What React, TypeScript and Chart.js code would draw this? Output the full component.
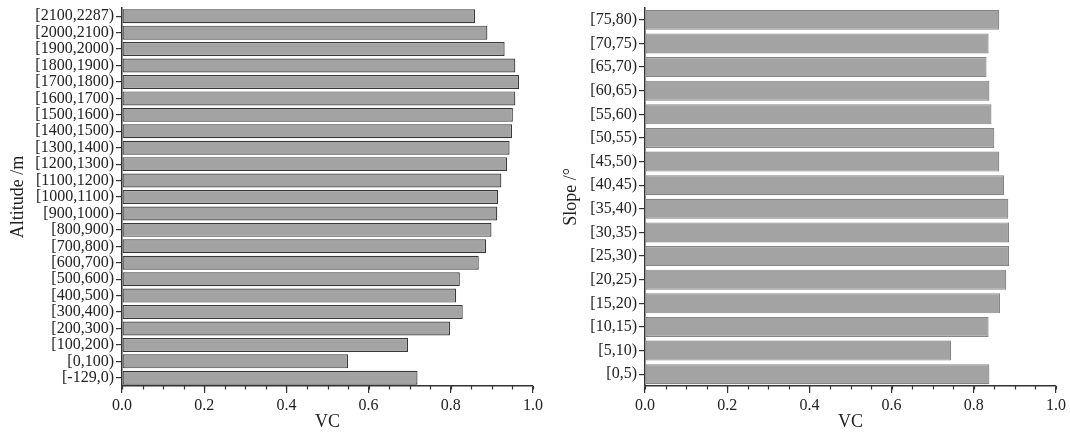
import React, { useEffect, useRef } from "react";
import { Chart, registerables } from "chart.js";

Chart.register(...registerables);

const altitudeCategories = [
  "[2100,2287)", "[2000,2100)", "[1900,2000)", "[1800,1900)", "[1700,1800)", "[1600,1700)",
  "[1500,1600)", "[1400,1500)", "[1300,1400)", "[1200,1300)", "[1100,1200)", "[1000,1100)",
  "[900,1000)", "[800,900)", "[700,800)", "[600,700)", "[500,600)", "[400,500)",
  "[300,400)", "[200,300)", "[100,200)", "[0,100)", "[-129,0)",
];
const altitudeVC = [
  0.859, 0.889, 0.931, 0.957, 0.966, 0.957,
  0.951, 0.949, 0.943, 0.937, 0.923, 0.915,
  0.913, 0.899, 0.886, 0.868, 0.822, 0.813,
  0.829, 0.798, 0.696, 0.550, 0.719,
];

const slopeCategories = [
  "[75,80)", "[70,75)", "[65,70)", "[60,65)", "[55,60)", "[50,55)", "[45,50)", "[40,45)",
  "[35,40)", "[30,35)", "[25,30)", "[20,25)", "[15,20)", "[10,15)", "[5,10)", "[0,5)",
];
const slopeVC = [
  0.862, 0.836, 0.831, 0.838, 0.843, 0.850, 0.862, 0.874,
  0.884, 0.886, 0.886, 0.879, 0.864, 0.836, 0.745, 0.838,
];

const xMajorStep = 0.2;
const xMinorStep = 0.05;

const FONT = "'Liberation Serif', 'Times New Roman', serif";
const AXIS = "#333333";

const minorTicks = {
  id: "minorTicks",
  afterDraw(chart: any) {
    const sx = chart.scales.x;
    const ctx = chart.ctx;
    const y = chart.chartArea.bottom;
    ctx.save();
    ctx.strokeStyle = AXIS;
    ctx.lineWidth = 1.2;
    const n = Math.round((sx.max - sx.min) / xMinorStep);
    for (let i = 0; i <= n; i++) {
      const v = sx.min + i * xMinorStep;
      const px = Math.round(sx.getPixelForValue(v)) + 0.5;
      ctx.beginPath();
      ctx.moveTo(px, y);
      ctx.lineTo(px, y + 3.5);
      ctx.stroke();
    }
    ctx.restore();
  },
};

function makeConfig(
  labels: string[],
  values: number[],
  yTitle: string,
  yWidth: number,
  padRight: number,
  yTitlePad: number,
  border: string
): any {
  return {
    type: "bar",
    data: {
      labels,
      datasets: [
        {
          data: values,
          backgroundColor: "#a3a3a3",
          borderColor: border,
          borderWidth: 1.2,
          borderSkipped: false,
          barPercentage: 0.85,
          categoryPercentage: 1,
        },
      ],
    },
    plugins: [minorTicks],
    options: {
      indexAxis: "y",
      animation: false,
      responsive: false,
      maintainAspectRatio: false,
      layout: { padding: { left: 0, right: padRight, top: 8, bottom: 0 } },
      plugins: {
        legend: { display: false },
        tooltip: { enabled: false },
        title: { display: false },
      },
      scales: {
        x: {
          min: 0,
          max: 1,
          afterFit: (s: any) => {
            s.height = 50;
            s.paddingLeft = 0;
            s.paddingRight = 0;
          },
          border: { display: true, color: AXIS, width: 1.5 },
          grid: {
            display: true,
            drawOnChartArea: false,
            drawTicks: true,
            tickLength: 7,
            color: AXIS,
            lineWidth: 1.2,
          },
          ticks: {
            stepSize: xMajorStep,
            padding: 3,
            color: "#222",
            font: { family: FONT, size: 16 },
            callback: (v: any) => Number(v).toFixed(1),
            maxRotation: 0,
          },
          title: {
            display: true,
            text: "VC",
            color: "#222",
            font: { family: FONT, size: 18 },
            padding: { top: 0, bottom: 3 },
          },
        },
        y: {
          afterFit: (s: any) => {
            s.width = yWidth;
            s.paddingTop = 0;
            s.paddingBottom = 0;
          },
          border: { display: true, color: AXIS, width: 1.5 },
          grid: {
            display: true,
            offset: false,
            drawOnChartArea: false,
            drawTicks: true,
            tickLength: 6,
            color: AXIS,
            lineWidth: 1.2,
          },
          ticks: {
            padding: 2,
            color: "#222",
            autoSkip: false,
            font: { family: FONT, size: 16 },
          },
          title: {
            display: true,
            text: yTitle,
            color: "#222",
            font: { family: FONT, size: 18 },
            padding: { top: yTitlePad, bottom: 0 },
          },
        },
      },
    },
  };
}

function BarPanel(props: {
  left: number;
  width: number;
  labels: string[];
  values: number[];
  yTitle: string;
  yWidth: number;
  padRight: number;
  yTitlePad: number;
  border: string;
}) {
  const ref = useRef<HTMLCanvasElement | null>(null);
  useEffect(() => {
    if (!ref.current) return;
    const chart = new Chart(
      ref.current,
      makeConfig(
        props.labels,
        props.values,
        props.yTitle,
        props.yWidth,
        props.padRight,
        props.yTitlePad,
        props.border
      )
    );
    return () => chart.destroy();
  }, []);
  return (
    <div style={{ position: "absolute", left: props.left, top: 0, width: props.width, height: 436 }}>
      <canvas ref={ref} width={props.width} height={436} style={{ width: props.width, height: 436, display: "block" }} />
    </div>
  );
}

export default function App() {
  useEffect(() => {
    document.body.style.margin = "0";
    document.body.style.background = "#ffffff";
  }, []);
  return (
    <div style={{ position: "relative", width: 1070, height: 436, background: "#fff", overflow: "hidden" }}>
      <BarPanel
        left={0}
        width={555}
        labels={altitudeCategories}
        values={altitudeVC}
        yTitle="Altitude /m"
        yWidth={122}
        padRight={22}
        yTitlePad={7}
        border="#383838"
      />
      <BarPanel
        left={555}
        width={515}
        labels={slopeCategories}
        values={slopeVC}
        yTitle="Slope /°"
        yWidth={90}
        padRight={14}
        yTitlePad={5}
        border="#858585"
      />
    </div>
  );
}
